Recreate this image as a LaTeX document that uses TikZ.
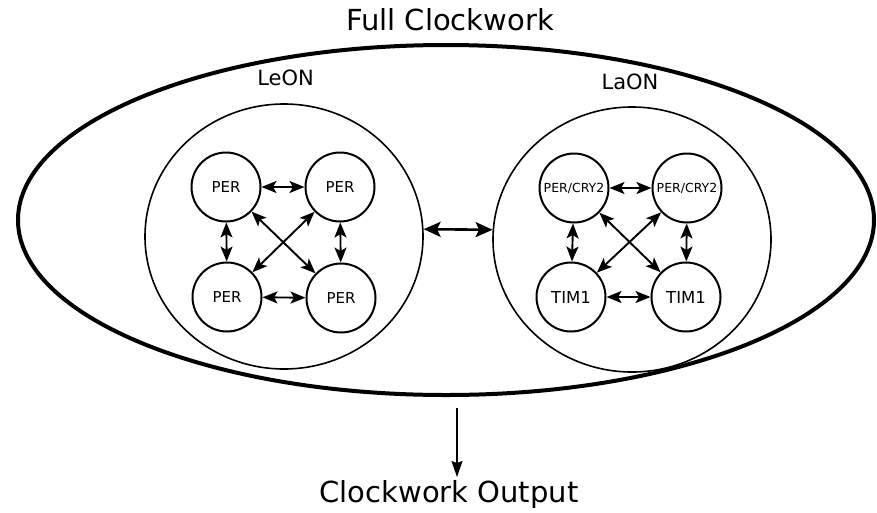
\documentclass[tikz,border=0pt]{standalone}
\usepackage{fontspec}
\setmainfont{DejaVu Sans}
\usetikzlibrary{shapes.geometric,arrows.meta}
\begin{document}
\begin{tikzpicture}[x=1pt,y=-1pt,
  bigoval/.style={ellipse,draw,line width=4pt,minimum width=856pt,minimum height=350pt,inner sep=0pt},
  group/.style={ellipse,draw,line width=1.6pt,minimum width=278pt,minimum height=265pt,inner sep=0pt},
  osc/.style={circle,draw,line width=2pt,minimum size=69pt,inner sep=0pt},
  lab/.style={anchor=base,inner sep=0pt},
  link/.style={line width=1.9pt,{Stealth[length=15pt,width=12pt,inset=3.5pt]}-{Stealth[length=15pt,width=12pt,inset=3.5pt]}},
  biglink/.style={line width=2.6pt,{Stealth[length=17pt,width=15pt,inset=3.5pt]}-{Stealth[length=17pt,width=15pt,inset=3.5pt]}},
  outlink/.style={line width=1.6pt,-{Stealth[length=16pt,width=11pt,inset=2pt]}}]
\useasboundingbox (0,0) rectangle (877,512);

\node[bigoval] (full) at (446,220) {};
\node[lab,font=\fontsize{29}{29}\selectfont] (tfull) at (450,30) {Full Clockwork};
\node[lab,font=\fontsize{29}{29}\selectfont] (tout) at (449,502) {Clockwork Output};
\coordinate (outstart) at (457,408);
\coordinate (outend) at (457,477);
\draw[outlink] (outstart) -- (outend);

\node[group] (leon) at (284,236.5) {};
\node[group] (laon) at (632,239.5) {};
\node[lab,font=\fontsize{21}{21}\selectfont] (tleon) at (285.5,85) {LeON};
\node[lab,font=\fontsize{21}{21}\selectfont] (tlaon) at (630,89) {LaON};
\draw[biglink] (leon.3) -- (laon.176);

% LeON oscillators
\begin{scope}[every node/.append style={font=\fontsize{15}{15}\selectfont}]
\node[osc] (a1) at (226,187) {PER};
\node[osc] (a2) at (340,187) {PER};
\node[osc] (a3) at (227,297) {PER};
\node[osc] (a4) at (341,298) {PER};
\end{scope}
\draw[link] (a1) -- (a2);
\draw[link] (a3) -- (a4);
\draw[link] (a1) -- (a3);
\draw[link] (a2) -- (a4);
\draw[link] (a1) -- (a4);
\draw[link] (a2) -- (a3);

% LaON oscillators
\node[osc,font=\fontsize{12.5}{12.5}\selectfont] (b1) at (574,188) {PER/CRY2};
\node[osc,font=\fontsize{12.5}{12.5}\selectfont] (b2) at (687,188) {PER/CRY2};
\node[osc,font=\fontsize{16.5}{16.5}\selectfont] (b3) at (571,297) {TIM1};
\node[osc,font=\fontsize{16.5}{16.5}\selectfont] (b4) at (686,297) {TIM1};
\draw[link] (b1) -- (b2);
\draw[link] (b3) -- (b4);
\draw[link] (b1) -- (b3);
\draw[link] (b2) -- (b4);
\draw[link] (b1) -- (b4);
\draw[link] (b2) -- (b3);
\end{tikzpicture}
\end{document}
